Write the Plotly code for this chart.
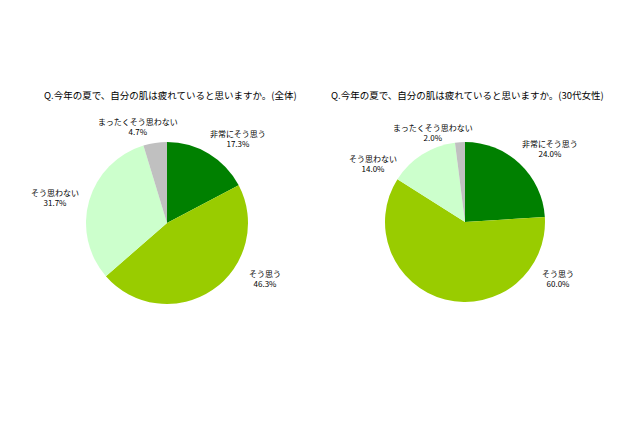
import plotly.graph_objects as go

# data
categories = ["非常にそう思う", "そう思う", "そう思わない", "まったくそう思わない"]
values_all = [17.3, 46.3, 31.7, 4.7]
values_30s = [24.0, 60.0, 14.0, 2.0]
titles = ["Q.今年の夏で、自分の肌は疲れていると思いますか。(全体)",
          "Q.今年の夏で、自分の肌は疲れていると思いますか。(30代女性)"]

colors = ["#008000", "#99CC00", "#CCFFCC", "#C0C0C0"]
font = "Noto Sans CJK JP"
W, H = 640, 426

# pie placement (pixels): center x, center y, radius
pies = [(167, 223, 81), (465, 222, 80)]
# label positions in pixels, one per category
label_pos = [
    [(238, 138), (265, 278), (55, 197), (138, 127)],
    [(550, 148), (558, 278), (373, 163), (433, 132)],
]
title_pos = [(170, 95), (467, 95)]

fig = go.Figure()
annotations = []
for i, vals in enumerate([values_all, values_30s]):
    cx, cy, r = pies[i]
    fig.add_trace(go.Pie(
        labels=categories, values=vals, sort=False, direction="clockwise",
        rotation=0, marker=dict(colors=colors, line=dict(width=0)),
        textinfo="none", hoverinfo="label+percent", showlegend=False,
        domain=dict(x=[(cx - r) / W, (cx + r) / W],
                    y=[(H - cy - r) / H, (H - cy + r) / H]),
    ))
    for cat, v, (lx, ly) in zip(categories, vals, label_pos[i]):
        annotations.append(dict(
            x=lx / W, y=1 - ly / H, xref="paper", yref="paper",
            text=f"{cat}<br>{v:.1f}%", showarrow=False,
            font=dict(family=font, size=8, color="#000000"),
            xanchor="center", yanchor="middle", align="center",
        ))
    tx, ty = title_pos[i]
    annotations.append(dict(
        x=tx / W, y=1 - ty / H, xref="paper", yref="paper",
        text=titles[i], showarrow=False,
        font=dict(family=font, size=9.5, color="#000000"),
        xanchor="center", yanchor="middle",
    ))

fig.update_layout(
    width=W, height=H, margin=dict(l=0, r=0, t=0, b=0),
    paper_bgcolor="white", plot_bgcolor="white",
    annotations=annotations,
)
# the page body has a default 8px margin; drop it so the figure sits at 0,0
fig.write_html("out.html", config={"displayModeBar": False},
               post_script="document.body.style.margin='0';")
